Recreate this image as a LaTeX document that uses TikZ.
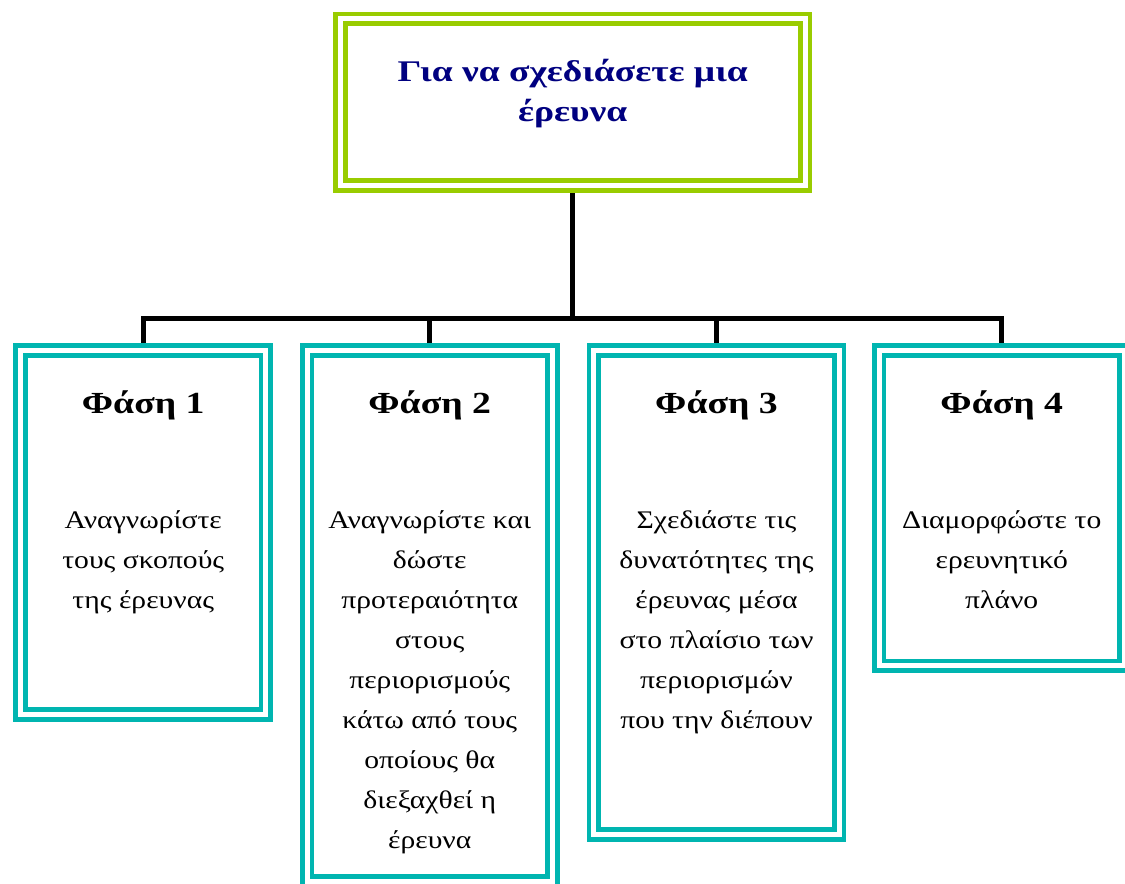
\documentclass[tikz,border=0pt]{standalone}
\usepackage{fontspec}
\setmainfont{Liberation Serif}
\newfontfamily\bodyfont[FakeStretch=1.17]{Liberation Serif}
\newfontfamily\headfont[FakeStretch=1.23]{Liberation Serif Bold}
\newfontfamily\titlefont[FakeStretch=1.25]{Liberation Serif Bold}
\usetikzlibrary{backgrounds}
\definecolor{titlegreen}{RGB}{153,204,0}
\definecolor{boxteal}{RGB}{0,181,176}
\definecolor{titlenavy}{RGB}{0,0,128}
\begin{document}
\begin{tikzpicture}[x=0.75pt,y=-0.75pt,
  frame/.style={rectangle, draw, line width=3.5pt, double=white, double distance=3.75pt,
    fill=white, inner sep=0pt, outer sep=0pt},
  titlebox/.style={frame, draw=titlegreen, minimum width=348.4pt, minimum height=125.1pt},
  phasebox/.style={frame, draw=boxteal, minimum width=184.1pt},
  titletext/.style={anchor=base, align=center, text=titlenavy,
    font=\titlefont\fontsize{22.5}{30}\selectfont, inner sep=0pt},
  headtext/.style={anchor=base, inner sep=0pt, font=\headfont\fontsize{23}{28}\selectfont},
  bodytext/.style={anchor=base, align=center, inner sep=0pt, font=\bodyfont\fontsize{19}{30}\selectfont},
  link/.style={draw=black, line width=3.75pt}]
\useasboundingbox (0,0) rectangle (1125,884);
\clip (0,0) rectangle (1125,884);
% boxes
\node[titlebox] (title) at (572.75,102.1) {};
\node[phasebox, minimum height=273pt]   (p1) at (143.25,532.5) {};
\node[phasebox, minimum height=397.9pt] (p2) at (429.75,615.75) {};
\node[phasebox, minimum height=363pt]   (p3) at (716.5,592.5) {};
\node[phasebox, minimum height=236.6pt] (p4) at (1001.75,508.25) {};
% connectors
\coordinate (bus) at (572.75,318.5);
\begin{scope}[on background layer]
\draw[link] (title.south) -- (bus);
\draw[link] (p1.north) -- (p1.north |- bus) -- (p4.north |- bus) -- (p4.north);
\draw[link] (p2.north) -- (p2.north |- bus);
\draw[link] (p3.north) -- (p3.north |- bus);
\end{scope}
% texts (base anchor = baseline of the last line)
\node[titletext] (tt) at (572.75,122) {Για να σχεδιάσετε μια\\έρευνα};
\node[headtext] (h1) at (143.25,413) {Φάση 1};
\node[headtext] (h2) at (429.75,413) {Φάση 2};
\node[headtext] (h3) at (716.5,413) {Φάση 3};
\node[headtext] (h4) at (1001.75,413) {Φάση 4};
\node[bodytext] (b1) at (143.25,608) {Αναγνωρίστε\\τους σκοπούς\\της έρευνας};
\node[bodytext] (b2) at (429.75,848) {Αναγνωρίστε και\\δώστε\\προτεραιότητα\\στους\\περιορισμούς\\κάτω από τους\\οποίους θα\\διεξαχθεί η\\έρευνα};
\node[bodytext] (b3) at (716.5,728) {Σχεδιάστε τις\\δυνατότητες της\\έρευνας μέσα\\στο πλαίσιο των\\περιορισμών\\που την διέπουν};
\node[bodytext] (b4) at (1001.75,608) {Διαμορφώστε το\\ερευνητικό\\πλάνο};
\end{tikzpicture}
\end{document}
